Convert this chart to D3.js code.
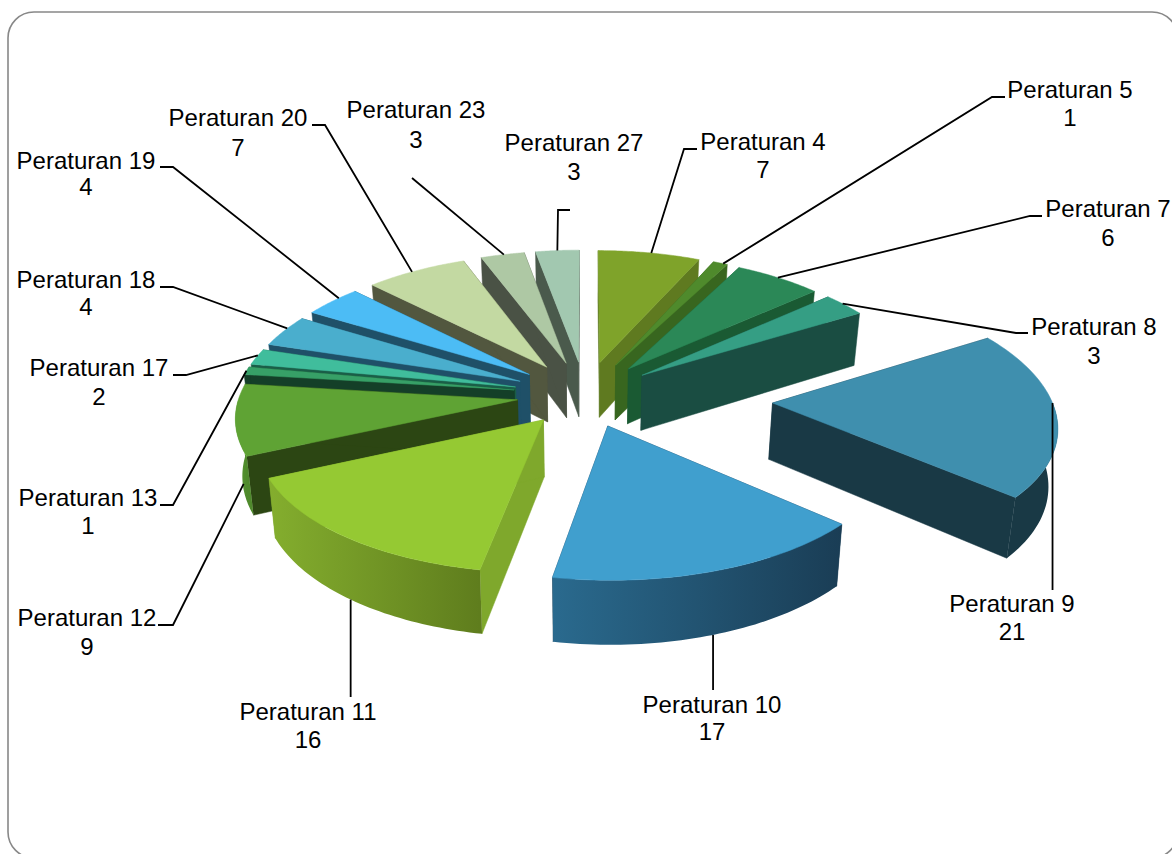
<!DOCTYPE html>
<html><head><meta charset="utf-8">
<script src="https://cdn.jsdelivr.net/npm/d3@7/dist/d3.min.js"></script>
<style>html,body{margin:0;padding:0;background:#fff;overflow:hidden}svg{display:block}</style>
</head><body><svg id="c" width="1172" height="854"></svg>
<script>
const categories=["Peraturan 4","Peraturan 5","Peraturan 7","Peraturan 8","Peraturan 9","Peraturan 10","Peraturan 11","Peraturan 12","Peraturan 13","Peraturan 17","Peraturan 18","Peraturan 19","Peraturan 20","Peraturan 23","Peraturan 27"];
const values=[7,1,6,3,21,17,16,9,1,2,4,4,7,3,3];
const explosion=[72,72,72,72,187,68,66,68,72,72,72,72,72,72,72];
const topColors=["#7fa32a","#4f8a2c","#2b8857","#359e84","#3f8fae","#409fce","#95c933","#5fa334","#37a067","#40bd9c","#4aaecd","#4cbcf5","#c3d9a2","#aec8a4","#a2c8b0"];
const wallColors=["#5f7a20","#38661f","#1a5a33","#1a4d42","#193945","#1a3f57","#7fa82c","#2c4613","#143f28","#1a5e48","#1f5068","#1f5068","#52573f","#4a5245","#4a5a4c"];
const outerLight=["#7fa32a","#4f8a2c","#1a5a33","#1a4d42","#193945","#2a6a8e","#84ae2e","#5a9a32","#143f28","#1a5e48","#1f5068","#1f5068","#52573f","#4a5245","#4a5a4c"];
const outerDark=["#7fa32a","#4f8a2c","#1a5a33","#1a4d42","#193945","#1a3d55","#5f7d1d","#4f8a2c","#143f28","#1a5e48","#1f5068","#1f5068","#52573f","#4a5245","#4a5a4c"];
// label centre, line-1 centre y, line gap, elbow, anchor: fraction along slice rim, and share of wall dropped
const labelX=[763,1070,1108,1094,1012,712,308,87,88,99,86,86,238,416,574];
const labelY=[142,90,209,327,604,705,712,618,498,368,280,161,118,110,143];
const lineGap=[28,28,29,29,28,27,28,29,28,29,27,26,30,30,29];
const elbowX=[684,992,1030,1016,null,null,null,173,173,186,173,173,325,null,558];
const elbowY=[149,97,216,333,590,690,697,625,505,375,287,167,125,null,210];
const stubX=[697,1005,1042,1028,null,null,null,158,160,173,160,160,312,412,570];
const anchorFrac=[.52,.7,.49,.44,.0,.5,.5,.26,.5,.6,.6,.65,.46,.53,.5];
const anchorDrop=[0,0,0,0,0,1,1,.8,0,0,0,0,0,0,0];

const cx=585,cy=395,R=278,K=.47,Dx=2400,Dy=2600,H=56,taper=.02;
const scX=Y=>1/(1-Y/Dx), scY=Y=>1/(1-Y/Dy);
const project=(X,Y,z)=>[cx+X*scX(Y)*(1-taper*z), cy+K*Y*scY(Y)+z*H*scY(Y)];
const arcs=d3.pie().sort(null).value(d=>d)(values).map((a,i)=>{
  const mid=(a.startAngle+a.endAngle)/2, e=explosion[i];
  return {i,a0:a.startAngle,a1:a.endAngle,mid,ox:e*Math.sin(mid),oy:-e*Math.cos(mid)};
});
const rim=(s,a,z)=>project(s.ox+R*Math.sin(a),s.oy-R*Math.cos(a),z);
const apex=(s,z)=>project(s.ox,s.oy,z);
const line=d3.line();
const svg=d3.select("#c");
const defs=svg.append("defs");
svg.append("rect").attr("x",8).attr("y",12).attr("width",1170).attr("height",846).attr("rx",26)
  .attr("fill","#fff").attr("stroke","#888").attr("stroke-width",1.6);

const order=arcs.slice().sort((p,q)=>(-Math.cos(p.mid))-(-Math.cos(q.mid)));
const g=svg.append("g");
const slice=g.selectAll("g.s").data(order).join("g").attr("class","s");
slice.each(function(s){
  const sel=d3.select(this), n=48;
  const angs=d3.range(n+1).map(k=>s.a0+(s.a1-s.a0)*k/n);
  // radial walls
  [s.a0,s.a1].forEach(a=>{
    sel.append("path").attr("fill",wallColors[s.i]).attr("stroke",wallColors[s.i]).attr("stroke-width",.5)
      .attr("d",line([apex(s,0),rim(s,a,0),rim(s,a,1),apex(s,1)])+"Z");
  });
  // outer wall, only the part facing the viewer
  const vis=angs.filter(a=>Math.cos(a)<0);
  if(vis.length>1){
    const top=vis.map(a=>rim(s,a,0)), bot=vis.map(a=>rim(s,a,1)).reverse();
    const xs=top.map(p=>p[0]);
    const id="w"+s.i;
    const lg=defs.append("linearGradient").attr("id",id).attr("gradientUnits","userSpaceOnUse")
      .attr("x1",d3.min(xs)).attr("x2",d3.max(xs)).attr("y1",0).attr("y2",0);
    lg.append("stop").attr("offset",0).attr("stop-color",outerLight[s.i]);
    lg.append("stop").attr("offset",1).attr("stop-color",outerDark[s.i]);
    sel.append("path").attr("fill",`url(#${id})`).attr("d",line(top.concat(bot))+"Z");
  }
  // top face
  sel.append("path").attr("fill",topColors[s.i]).attr("stroke",topColors[s.i]).attr("stroke-width",.5)
    .attr("d",line([apex(s,0)].concat(angs.map(a=>rim(s,a,0))))+"Z");
});

// leader lines
svg.append("g").selectAll("path").data(arcs).join("path")
  .attr("fill","none").attr("stroke","#000").attr("stroke-width",1.8)
  .attr("d",s=>{
    const i=s.i, a=s.a0+(s.a1-s.a0)*anchorFrac[i];
    const useA=i===4?Math.PI/2:a;
    const p=rim(s,useA,anchorDrop[i]);
    const pts=[];
    if(stubX[i]!==null){
      if(elbowX[i]!==null){pts.push([stubX[i],elbowY[i]],[elbowX[i],elbowY[i]]);}
      else pts.push([stubX[i],178]);
    } else pts.push([p[0],elbowY[i]]);
    pts.push(p);
    return line(pts);
  });

// labels
const lab=svg.append("g").attr("font-family","'Liberation Sans',Arial,sans-serif").attr("font-size",24)
  .attr("fill","#000").attr("text-anchor","middle");
lab.selectAll("g").data(categories).join("g").each(function(c,i){
  const t=d3.select(this);
  t.append("text").attr("x",labelX[i]).attr("y",labelY[i]+8).text(c);
  t.append("text").attr("x",labelX[i]).attr("y",labelY[i]+8+lineGap[i]).text(values[i]);
});
</script></body></html>
